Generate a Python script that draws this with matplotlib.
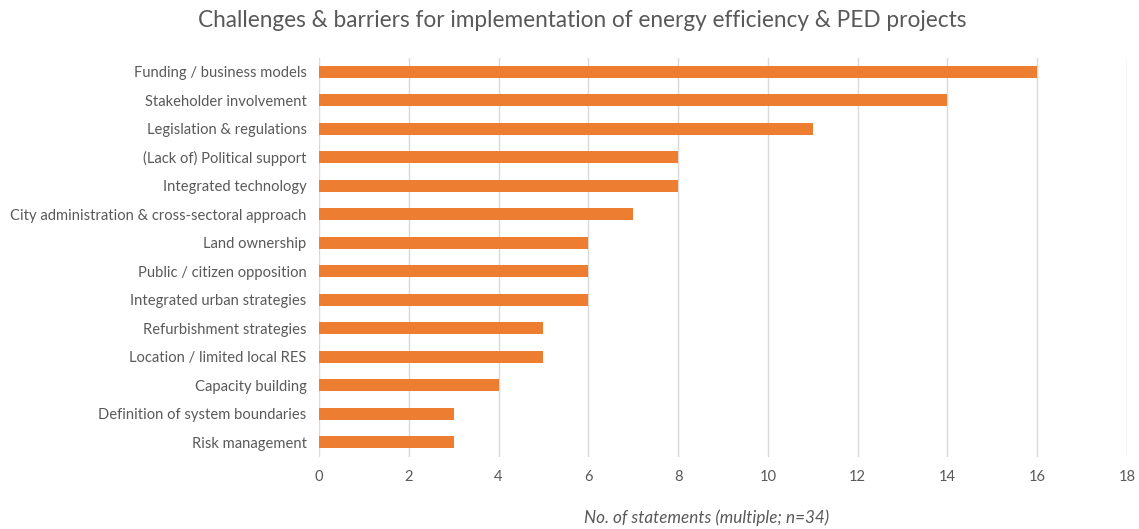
import matplotlib
matplotlib.use("Agg")
import matplotlib.pyplot as plt

categories = [
    "Funding / business models",
    "Stakeholder involvement",
    "Legislation & regulations",
    "(Lack of) Political support",
    "Integrated technology",
    "City administration & cross-sectoral approach",
    "Land ownership",
    "Public / citizen opposition",
    "Integrated urban strategies",
    "Refurbishment strategies",
    "Location / limited local RES",
    "Capacity building",
    "Definition of system boundaries",
    "Risk management",
]
counts = [16, 14, 11, 8, 8, 7, 6, 6, 6, 5, 5, 4, 3, 3]
x_ticks = [0, 2, 4, 6, 8, 10, 12, 14, 16, 18]

plt.rcParams["font.family"] = ["Lato", "DejaVu Sans"]
text_col = "#595959"
bar_col = "#ED7D31"

fig = plt.figure(figsize=(11.39, 5.29), dpi=100)
ax = fig.add_axes([0.2801, 0.137, 0.7094, 0.754])

ax.barh(range(len(categories)), counts, height=0.42, color=bar_col, zorder=3)
ax.set_ylim(len(categories) - 0.5, -0.5)
ax.set_xlim(0, 18)
ax.set_xticks(x_ticks)
ax.set_yticks(range(len(categories)))
ax.set_yticklabels(categories)
ax.tick_params(axis="both", length=0, colors=text_col, labelsize=10.6)
ax.tick_params(axis="x", pad=10)
ax.tick_params(axis="y", pad=9)
ax.grid(axis="x", color="#D9D9D9", linewidth=1, zorder=0)
for s in ax.spines.values():
    s.set_visible(False)

fig.text(0.511, 0.962, "Challenges & barriers for implementation of energy efficiency & PED projects",
         ha="center", va="center", fontsize=16.3, color=text_col)
fig.text(0.620, 0.021, "No. of statements (multiple; n=34)", ha="center", va="center",
         fontsize=12.3, style="italic", color=text_col)

fig.savefig("out.png", dpi=100)
